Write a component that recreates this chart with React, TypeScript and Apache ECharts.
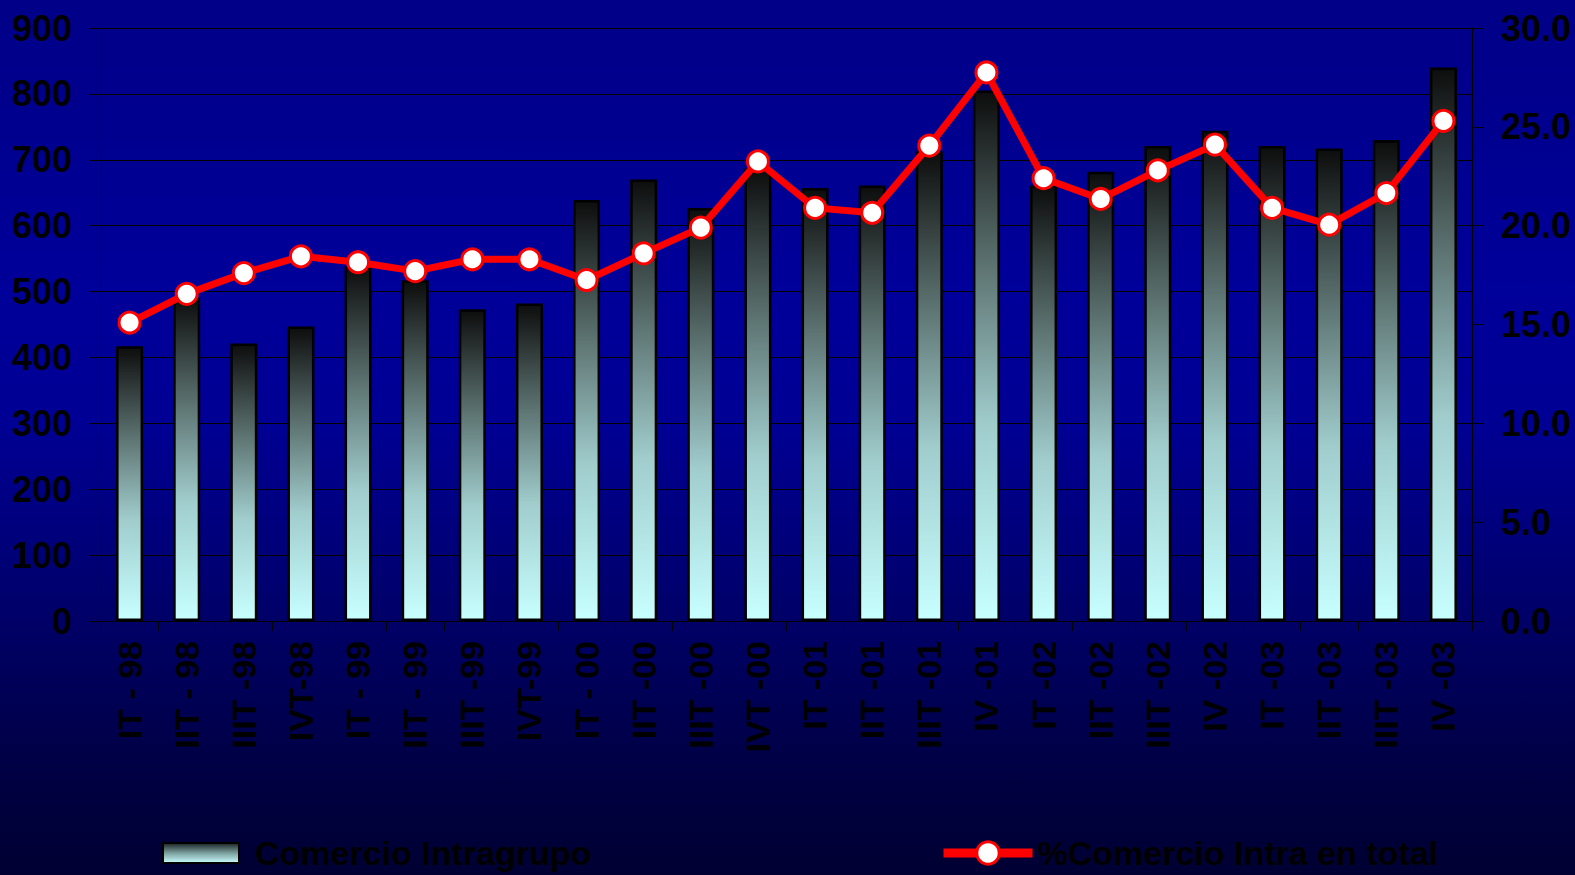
import React, { useEffect, useRef } from "react";
import * as echarts from "echarts";

const categories = [
  "IT - 98", "IIT - 98", "IIIT -98", "IVT-98",
  "IT - 99", "IIT - 99", "IIIT -99", "IVT-99",
  "IT - 00", "IIT -00", "IIIT -00", "IVT -00",
  "IT -01", "IIT -01", "IIIT -01", "IV -01",
  "IT -02", "IIT -02", "IIIT -02", "IV -02",
  "IT -03", "IIT -03", "IIIT -03", "IV -03",
];

const comercioIntragrupo = [
  417, 491, 421, 447, 538, 517, 473, 482,
  639, 670, 627, 687, 657, 661, 713, 805,
  661, 682, 721, 744, 721, 717, 730, 840,
];

const pctComercioIntra = [
  15.1, 16.55, 17.6, 18.45, 18.15, 17.7, 18.3, 18.3,
  17.25, 18.6, 19.9, 23.25, 20.9, 20.65, 24.05, 27.75,
  22.4, 21.35, 22.8, 24.1, 20.9, 20.05, 21.65, 25.3,
];

const leftTicks = { min: 0, max: 900, interval: 100 };
const rightTicks = { min: 0, max: 30, interval: 5 };

const FONT = "'Liberation Sans', Arial, sans-serif";

export default function App() {
  const ref = useRef<HTMLDivElement>(null);

  useEffect(() => {
    document.body.style.margin = "0";
    const chart = echarts.init(ref.current!, null, { renderer: "svg" });
    const barGradient = new echarts.graphic.LinearGradient(0, 0, 0, 1, [
      { offset: 0, color: "#0d0d0d" },
      { offset: 0.32, color: "#5a706e" },
      { offset: 0.63, color: "#a0cccc" },
      { offset: 1, color: "#c8ffff" },
    ]);
    const legendGradient = new echarts.graphic.LinearGradient(0, 0, 0, 1, [
      { offset: 0, color: "#1a2222" },
      { offset: 0.5, color: "#7a9f9d" },
      { offset: 1, color: "#c8ffff" },
    ]);
    const labelStyle = {
      color: "#000000",
      fontFamily: FONT,
      fontWeight: "bold" as const,
      fontSize: 34,
    };
    chart.setOption({
      animation: false,
      backgroundColor: "transparent",
      grid: { left: 101, right: 103, top: 28, bottom: 254, containLabel: false },
      legend: [
        {
          data: [{ name: "Comercio Intragrupo", icon: "rect" }],
          left: 162,
          top: 836,
          padding: 0,
          itemWidth: 76,
          itemHeight: 20,
          itemStyle: { color: legendGradient, borderColor: "#000000", borderWidth: 2 },
          textStyle: { ...labelStyle, lineHeight: 34, padding: [0, 0, 0, 11] },
        },
        {
          data: ["%Comercio Intra en total"],
          left: 939,
          top: 836,
          padding: 0,
          itemWidth: 89,
          itemHeight: 28,
          lineStyle: { color: "#ff0000", width: 9 },
          itemStyle: { color: "#ffffff", borderColor: "#ff0000", borderWidth: 3 },
          textStyle: { ...labelStyle, lineHeight: 34 },
        },
      ],
      xAxis: {
        type: "category",
        data: categories,
        boundaryGap: true,
        axisLine: { lineStyle: { color: "#000000", width: 1 } },
        axisTick: { show: true, alignWithLabel: false, length: 10, lineStyle: { color: "#000000" } },
        axisLabel: { ...labelStyle, rotate: 90, margin: 20, interval: 0 },
        splitLine: { show: false },
      },
      yAxis: [
        {
          type: "value",
          position: "left",
          min: leftTicks.min,
          max: leftTicks.max,
          interval: leftTicks.interval,
          axisLine: { show: true, lineStyle: { color: "#000000", width: 1 } },
          axisTick: { show: true, length: 12, lineStyle: { color: "#000000" } },
          axisLabel: { ...labelStyle, fontSize: 36, margin: 29 },
          splitLine: { show: true, lineStyle: { color: "#000000", width: 1 } },
        },
        {
          type: "value",
          position: "right",
          min: rightTicks.min,
          max: rightTicks.max,
          interval: rightTicks.interval,
          axisLine: { show: true, lineStyle: { color: "#000000", width: 1 } },
          axisTick: { show: true, length: 12, lineStyle: { color: "#000000" } },
          axisLabel: {
            ...labelStyle,
            fontSize: 36,
            margin: 29,
            formatter: (v: number) => v.toFixed(1),
          },
          splitLine: { show: false },
        },
      ],
      series: [
        {
          name: "Comercio Intragrupo",
          type: "bar",
          yAxisIndex: 0,
          data: comercioIntragrupo,
          barWidth: 27,
          itemStyle: { color: barGradient, borderColor: "#000000", borderWidth: 2.5 },
          z: 2,
        },
        {
          name: "%Comercio Intra en total",
          type: "line",
          yAxisIndex: 1,
          data: pctComercioIntra,
          symbol: "circle",
          symbolSize: 21,
          lineStyle: { color: "#ff0000", width: 7 },
          itemStyle: { color: "#ffffff", borderColor: "#ff0000", borderWidth: 3 },
          z: 3,
        },
      ],
    });
    return () => chart.dispose();
  }, []);

  return (
    <div
      style={{
        width: 1575,
        height: 875,
        background:
          "linear-gradient(to bottom, #000088 0%, #00008f 15%, #00009a 33%, #000094 48%, #000078 63%, #000058 78%, #000040 90%, #000033 100%)",
      }}
    >
      <div ref={ref} style={{ width: 1575, height: 875 }} />
    </div>
  );
}
